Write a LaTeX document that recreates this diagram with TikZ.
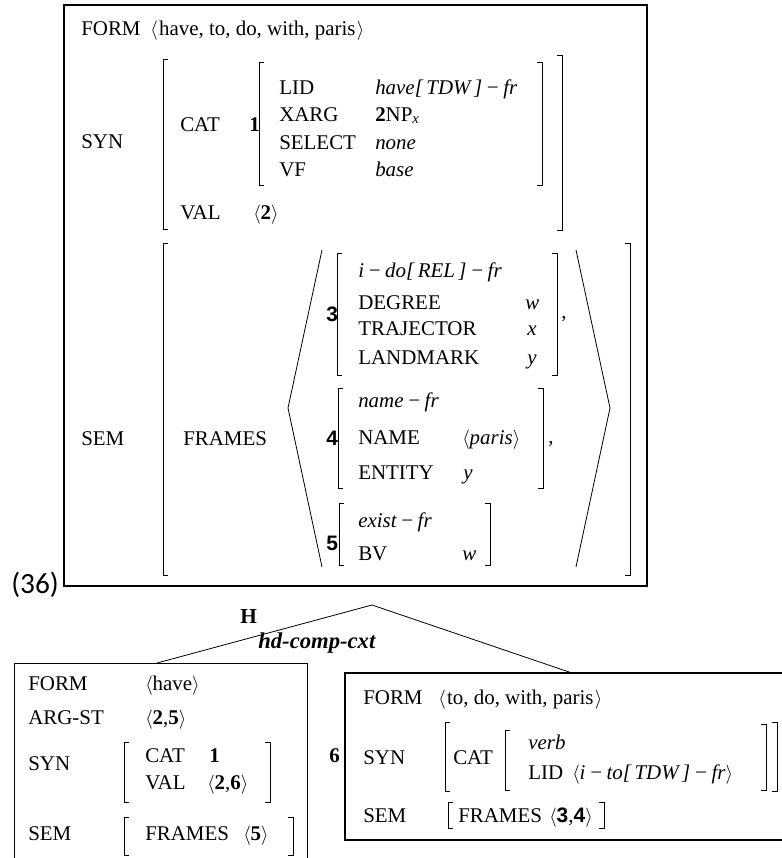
\documentclass[tikz,border=0pt]{standalone}
\usepackage{fontspec}
\setmainfont{Liberation Serif}
\newfontfamily\tagsansfont{Liberation Sans}
\newfontfamily\exnumfont{Carlito}
\usepackage{tikz}

% brackets of the feature structures
\newcommand\openbr[3]{\draw[brk] (#1,#2) ++(5,0) -- ++(-5,0) -- (#1,#3) -- ++(5,0);}
\newcommand\closebr[3]{\draw[brk] (#1,#2) ++(-5,0) -- ++(5,0) -- (#1,#3) -- ++(-5,0);}
\newcommand\avl{$\langle$}
\newcommand\avr{$\rangle$}
\newcommand\tagb[1]{\textbf{#1}}
\newcommand\tags[1]{{\tagsansfont\bfseries #1}}

\begin{document}
\begin{tikzpicture}[x=0.75pt,y=-0.75pt,
  attr/.style={anchor=base west,inner sep=0pt,font=\fontsize{15.7}{19}\selectfont},
  exnum/.style={anchor=base west,inner sep=0pt,font=\exnumfont\fontsize{22}{26}\selectfont},
  hlabel/.style={anchor=base west,inner sep=0pt,font=\fontsize{16}{19}\selectfont\bfseries},
  cxtlabel/.style={anchor=base west,inner sep=0pt,font=\fontsize{17}{20}\selectfont\bfseries\itshape},
  brk/.style={line width=0.6pt},
  box/.style={line width=0.8pt},
  edge/.style={line width=0.6pt}]
\useasboundingbox (0,0) rectangle (782,858);

% Mother
\draw[box] (64,5) rectangle (647,586);
\node[exnum] (exno) at (11,593) {(36)};
\node[attr] (mform) at (81,35) {FORM};
\node[attr] (mformv) at (150,35) {\avl\kern1pt have, to, do, with, paris\kern1pt\avr};

% SYN
\node[attr] (msyn) at (81,148) {SYN};
\openbr{163}{59}{229}
\closebr{562}{55}{230}
\node[attr] (mcat) at (180,131) {CAT};
\node[attr] (mtag1) at (249,131) {\tagb{1}};
\openbr{259}{62}{185}
\closebr{542}{62}{185}
\node[attr] (mlid) at (279,94) {LID};
\node[attr] (mlidv) at (375,94) {\itshape have[\,TDW\,]\,−\,fr};
\node[attr] (mxarg) at (279,121) {XARG};
\node[attr] (mxargv) at (375,121) {\tagb{2}NP\textsubscript{\itshape x}};
\node[attr] (msel) at (279,149) {SELECT};
\node[attr] (mselv) at (375,149) {\itshape none};
\node[attr] (mvf) at (279,176) {VF};
\node[attr] (mvfv) at (375,176) {\itshape base};
\node[attr] (mval) at (180,219) {VAL};
\node[attr] (mvalv) at (253,219) {\avl\tagb{2}\avr};

% SEM
\node[attr] (msem) at (81,445) {SEM};
\openbr{163}{243}{575}
\closebr{630}{243}{575}
\node[attr] (mframes) at (183,445) {FRAMES};
\draw[edge] (322,250) -- (288,408) -- (322,567);
\draw[edge] (576,250) -- (610,408) -- (576,567);

% frame 3
\node[attr] (mtag3) at (326,321) {\tags{3}};
\openbr{337}{253}{375}
\closebr{557}{253}{375}
\node[attr] (ido) at (358,277) {\itshape i\,−\,do[\,REL\,]\,−\,fr};
\node[attr] (deg) at (358,309) {DEGREE};
\node[attr] (degv) at (525,309) {\itshape w};
\node[attr] (traj) at (358,335) {TRAJECTOR};
\node[attr] (trajv) at (527,335) {\itshape x};
\node[attr] (land) at (358,364) {LANDMARK};
\node[attr] (landv) at (527,364) {\itshape y};
\node[attr] (comma3) at (561,318) {,};

% frame 4
\node[attr] (mtag4) at (326,445) {\tags{4}};
\openbr{338}{388}{488}
\closebr{543}{388}{488}
\node[attr] (namefr) at (358,407) {\itshape name\,−\,fr};
\node[attr] (name) at (358,444) {NAME};
\node[attr] (namev) at (462,444) {\avl\textit{paris}\avr};
\node[attr] (ent) at (358,479) {ENTITY};
\node[attr] (entv) at (463,479) {\itshape y};
\node[attr] (comma4) at (548,443) {,};

% frame 5
\node[attr] (mtag5) at (326,550) {\tags{5}};
\openbr{339}{503}{565}
\closebr{490}{503}{565}
\node[attr] (exist) at (358,527) {\itshape exist\,−\,fr};
\node[attr] (bv) at (358,560) {BV};
\node[attr] (bvv) at (462,560) {\itshape w};

% tree
\coordinate (apex) at (372,605);
\coordinate (hdtop) at (157,663);
\coordinate (comptop) at (572,673);
\draw[edge] (hdtop) -- (apex) -- (comptop);
\node[hlabel] (hmark) at (240,623) {H};
\node[cxtlabel] (cxt) at (258,648) {hd-comp-cxt};

% head daughter
\draw[edge] (14,858) -- (14,663) -- (307,663) -- (307,858);
\node[attr] (hform) at (28,690) {FORM};
\node[attr] (hformv) at (145,690) {\avl have\avr};
\node[attr] (harg) at (28,724) {ARG-ST};
\node[attr] (hargv) at (145,724) {\avl\tagb{2},\tagb{5}\avr};
\node[attr] (hsyn) at (28,770) {SYN};
\openbr{124}{742}{802}
\closebr{270}{742}{802}
\node[attr] (hcat) at (145,762) {CAT};
\node[attr] (htag1) at (209,762) {\tagb{1}};
\node[attr] (hval) at (145,789) {VAL};
\node[attr] (hvalv) at (207,789) {\avl\tagb{2},\tagb{6}\avr};
\node[attr] (hsem) at (28,840) {SEM};
\openbr{124}{817}{855}
\closebr{293}{817}{855}
\node[attr] (hframes) at (145,840) {FRAMES};
\node[attr] (hframesv) at (243,840) {\avl\tagb{5}\avr};

% complement daughter
\draw[line width=1.5pt] (345,673) rectangle (800,840);
\node[attr] (ctag6) at (329,762) {\tagb{6}};
\node[attr] (cform) at (363,704) {FORM};
\node[attr] (cformv) at (438,704) {\avl\kern1pt to, do, with, paris\kern1pt\avr};
\node[attr] (csyn) at (363,764) {SYN};
\openbr{445}{722}{791}
\closebr{777}{722}{791}
\node[attr] (ccat) at (453,764) {CAT};
\openbr{505}{730}{790}
\closebr{766}{724}{790}
\node[attr] (cverb) at (528,749) {\itshape verb};
\node[attr] (clid) at (528,779) {LID};
\node[attr] (clidv) at (572,779) {\avl\textit{i\,−\,to[\,TDW\,]\,−\,fr}\avr};
\node[attr] (csem) at (363,822) {SEM};
\openbr{448}{802}{828}
\closebr{604}{802}{828}
\node[attr] (cframes) at (458,822) {FRAMES};
\node[attr] (cframesv) at (549,822) {\avl\tags{3},\tags{4}\avr};

\end{tikzpicture}
\end{document}
